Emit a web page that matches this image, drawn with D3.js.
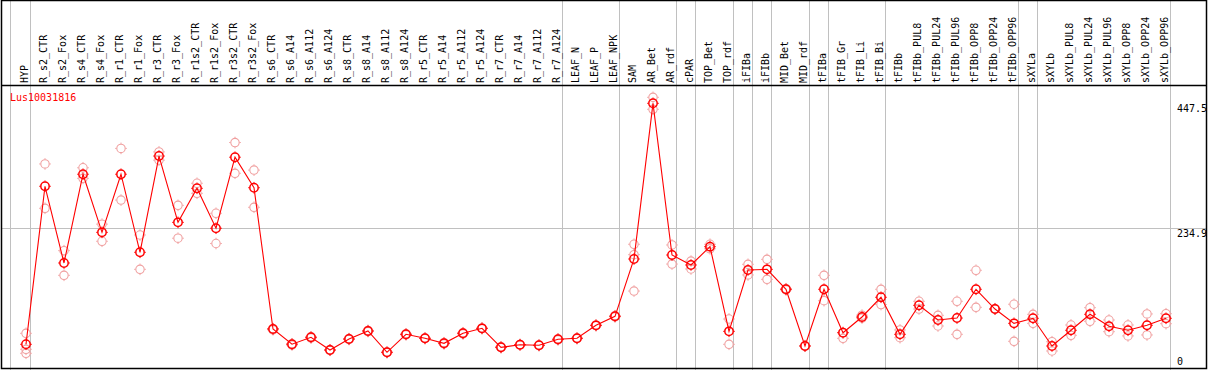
<!DOCTYPE html>
<html>
<head>
<meta charset="utf-8">
<script src="https://cdn.jsdelivr.net/npm/d3@7/dist/d3.min.js"></script>
<style>
html,body{margin:0;padding:0;background:#fff;}
svg{display:block;}
text{font-family:"DejaVu Sans Mono",monospace;font-size:10px;}
</style>
</head>
<body>
<script>
const categories = ["HYP","R_s2_CTR","R_s2_Fox","R_s4_CTR","R_s4_Fox","R_r1_CTR","R_r1_Fox","R_r3_CTR","R_r3_Fox","R_r1s2_CTR","R_r1s2_Fox","R_r3s2_CTR","R_r3s2_Fox","R_s6_CTR","R_s6_A14","R_s6_A112","R_s6_A124","R_s8_CTR","R_s8_A14","R_s8_A112","R_s8_A124","R_r5_CTR","R_r5_A14","R_r5_A112","R_r5_A124","R_r7_CTR","R_r7_A14","R_r7_A112","R_r7_A124","LEAF_N","LEAF_P","LEAF_NPK","SAM","AR_Bet","AR_rdf","cPAR","TOP_Bet","TOP_rdf","iFIBa","iFIBb","MID_Bet","MID_rdf","tFIBa","tFIB_Gr","tFIB_Li","tFIB_Bi","tFIBb","tFIBb_PUL8","tFIBb_PUL24","tFIBb_PUL96","tFIBb_OPP8","tFIBb_OPP24","tFIBb_OPP96","sXYLa","sXYLb","sXYLb_PUL8","sXYLb_PUL24","sXYLb_PUL96","sXYLb_OPP8","sXYLb_OPP24","sXYLb_OPP96"];

const means = [37.3,306.5,175.8,327,228,327,194,358,245,303,235,356,304,63.4,37.5,49.2,27.6,46.3,60,23.7,54.3,47.5,39,56,64.5,32.2,36.6,35.6,45.8,47.5,69.6,85,182.6,447.8,189.4,172.4,203.6,59.4,163.9,165,131,34.4,131,57,83.8,117.4,54.3,103.7,78.7,82,131,97.4,73,81.6,34.4,61.2,88.4,68,61.2,69.7,81.6];

const replicates = [
 [56,28.8,22],[344.5,269],[196.8,154.8],[338,320],[242,212.8],[371,283],[223.5,165],[365,351],[274,218],[311.6,294.5],[260.5,209],[381,328.6],[334,270.7],[64,62],[38,36],[50,48],[28,27],[47,45.5],[61,59],[24,23],[55,53.5],[48,47],[40,38],[57,55],[65,64],[33,31.5],[37,36],[36,35],[46.5,45],[48,47],[70,69],[86,84],
 [207.7,190,128],[458,437.6],[206.5,174],[179,165.6],[207.7,200],[80.4,37.3],[173.6,155.4],[182,148],[132,130],[35,34],[154.8,111.6],[57.5,47.5],[87,82],[131,105],
 [48.6,61.7],[110.6,97.4],[86.7,68.5],[110.6,54.3],[163.4,100.3],[98,97],[105.5,42.4],[88.4,73],[41.7,25.9],[70.2,52.6],[99.7,76.5],[78.7,58.8],[70.2,51.6],[89,53.2],[89.4,72.4]
];

const tickValues = [0, 234.9, 447.5];
const tickLabels = ["0", "234.9", "447.5"];
const separatorAfter = ["HYP","R_r7_A124","LEAF_NPK","AR_rdf","cPAR","TOP_rdf","iFIBa","iFIBb","MID_rdf","tFIBa","tFIB_Bi","tFIBb_OPP96","sXYLa","sXYLb_OPP96"];
const geneName = "Lus10031816";

const W = 1209, H = 370;
const svg = d3.select("body").append("svg").attr("width", W).attr("height", H);

const x = d3.scalePoint().domain(categories).range([26, 1166]);
const y = d3.scaleLinear().domain([0, 469.8]).range([366.2, 90.4]);

// vertical separators
svg.append("line").attr("x1",10.5).attr("x2",10.5).attr("y1",0).attr("y2",H).attr("stroke","#c0c0c0").attr("stroke-width",1);
svg.selectAll("line.sep").data(separatorAfter).enter().append("line")
  .attr("class","sep")
  .attr("x1", d => Math.round(x(d) + 4) + 0.5)
  .attr("x2", d => Math.round(x(d) + 4) + 0.5)
  .attr("y1", 0).attr("y2", H)
  .attr("stroke", "#c0c0c0").attr("stroke-width", 1);

// horizontal midline
svg.append("line").attr("x1", 2).attr("x2", 1206)
  .attr("y1", Math.round(y(234.9)) + 0.5).attr("y2", Math.round(y(234.9)) + 0.5)
  .attr("stroke", "#c0c0c0").attr("stroke-width", 1);

// frame
svg.append("rect").attr("x", 1.5).attr("y", 0.5).attr("width", 1205).attr("height", 368)
  .attr("fill", "none").attr("stroke", "#000").attr("stroke-width", 1.5);
svg.append("line").attr("x1", 1).attr("x2", 1207).attr("y1", 85.5).attr("y2", 85.5)
  .attr("stroke", "#000").attr("stroke-width", 1.5);

// column labels
svg.selectAll("text.cat").data(categories).enter().append("text")
  .attr("class","cat")
  .attr("transform", d => `translate(${x(d) + 2},83) rotate(-90)`)
  .attr("text-anchor", "start")
  .attr("fill", "#000")
  .text(d => d);

// right axis labels
svg.selectAll("text.tick").data(tickValues).enter().append("text")
  .attr("class","tick")
  .attr("x", 1177)
  .attr("y", (d,i) => i === 0 ? y(d) - 1 : y(d) + 9)
  .attr("fill", "#000")
  .text((d,i) => tickLabels[i]);

// gene name
svg.append("text").attr("x", 10).attr("y", 101).attr("fill", "#ff0000").text(geneName);

function marker(g, cx, cy, color, sw) {
  const r = 4.2;
  g.append("circle").attr("cx", cx).attr("cy", cy).attr("r", r)
    .attr("fill", "none").attr("stroke", color).attr("stroke-width", sw);
  const t = [[0,-1],[0,1],[-1,0],[1,0]];
  t.forEach(([dx,dy]) => {
    g.append("line")
      .attr("x1", cx + dx*(r+0.3)).attr("y1", cy + dy*(r+0.3))
      .attr("x2", cx + dx*(r+1.6)).attr("y2", cy + dy*(r+1.6))
      .attr("stroke", color).attr("stroke-width", 1);
  });
}

// replicates
const repG = svg.append("g");
categories.forEach((c,i) => {
  replicates[i].forEach(v => marker(repG, x(c), y(v), "#f0a0a0", 1.1));
});

// mean line
svg.append("path")
  .datum(means)
  .attr("d", d3.line().x((d,i) => x(categories[i])).y(d => y(d)))
  .attr("fill","none").attr("stroke","#ff0000").attr("stroke-width",1.1);

const meanG = svg.append("g");
categories.forEach((c,i) => marker(meanG, x(c), y(means[i]), "#ff0000", 1.5));
</script>
</body>
</html>
